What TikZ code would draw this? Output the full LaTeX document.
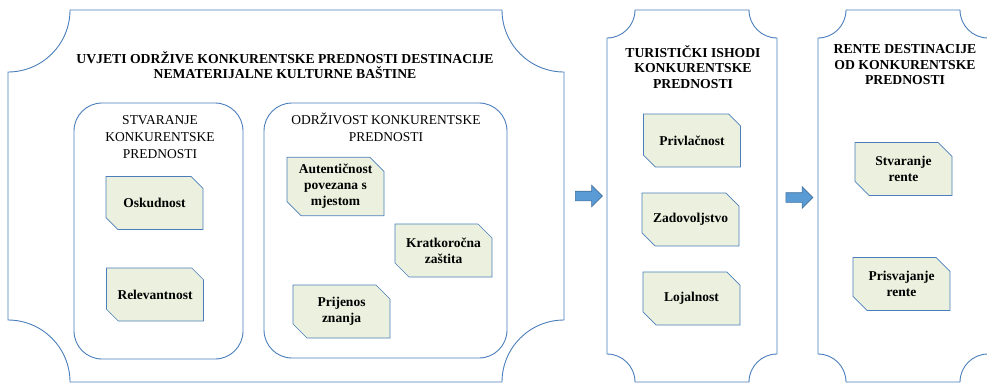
\documentclass[tikz,border=0pt]{standalone}
\usepackage{fontspec}
\setmainfont{Liberation Serif}
\usetikzlibrary{shapes.misc,shapes.arrows}
\definecolor{frameblue}{RGB}{74,126,187}
\definecolor{boxgreen}{RGB}{235,241,222}
\definecolor{arrowblue}{RGB}{91,155,213}
\definecolor{arrowedge}{RGB}{65,113,156}
\tikzset{
  plaque/.style={draw=frameblue, line width=0.9pt},
  panel/.style={draw=frameblue, line width=0.9pt, rounded corners=28pt},
  factor/.style={chamfered rectangle, chamfered rectangle corners={north east,south west},
    chamfered rectangle sep=7pt, draw=frameblue, fill=boxgreen, line width=0.7pt,
    inner sep=0pt, minimum width=97pt, minimum height=53pt, align=center,
    font=\fontsize{13.5}{16}\selectfont\bfseries},
  heading/.style={align=center, font=\fontsize{13.7}{15.5}\selectfont\bfseries},
  subheading/.style={align=center, font=\fontsize{13.5}{17}\selectfont},
  flow/.style={single arrow, draw=arrowedge, fill=arrowblue, line width=0.6pt,
    inner sep=4.5pt, single arrow head extend=6pt, minimum height=27pt}
}
% plaque with concave corners: x1, y1, x2, y2, radius
\newcommand{\plaquepath}[5]{%
  (#1+#5,#2) -- (#3-#5,#2) arc[start angle=180, end angle=90, radius=#5]
  -- (#3,#4-#5) arc[start angle=270, end angle=180, radius=#5]
  -- (#1+#5,#4) arc[start angle=0, end angle=-90, radius=#5]
  -- (#1,#2+#5) arc[start angle=90, end angle=0, radius=#5] -- cycle}
\begin{document}
\begin{tikzpicture}[x=1pt, y=-1pt]
  \useasboundingbox (0,0) rectangle (987,383);
  % containers
  \draw[plaque] \plaquepath{8}{10}{564}{382}{62};
  \draw[plaque] \plaquepath{607}{10}{777}{382}{28};
  \draw[plaque] \plaquepath{818}{10}{988}{382}{28};
  \draw[panel] (74,103) rectangle (243,359);
  \draw[panel] (264,103) rectangle (507,358);
  % headings
  \node[heading] (conditions) at (285,65) {UVJETI ODRŽIVE KONKURENTSKE PREDNOSTI DESTINACIJE\\NEMATERIJALNE KULTURNE BAŠTINE};
  \node[subheading] (creation) at (160,137) {STVARANJE\\KONKURENTSKE\\PREDNOSTI};
  \node[subheading] (sustain) at (386,127) {ODRŽIVOST KONKURENTSKE\\PREDNOSTI};
  \node[heading] (outcomes) at (693,67) {TURISTIČKI ISHODI\\KONKURENTSKE\\PREDNOSTI};
  \node[heading] (rents) at (905,65) {RENTE DESTINACIJE\\OD KONKURENTSKE\\PREDNOSTI};
  % factors
  \node[factor] (scarcity) at (154.5,203) {Oskudnost};
  \node[factor] (relevance) at (155,294.5) {Relevantnost};
  \node[factor] (authentic) at (335.5,186.5) {Autentičnost\\povezana s\\mjestom};
  \node[factor] (protection) at (443.5,250.5) {Kratkoročna\\zaštita};
  \node[factor] (transfer) at (341.5,311.5) {Prijenos\\znanja};
  \node[factor] (attract) at (692,140.5) {Privlačnost};
  \node[factor] (satisfy) at (690.5,219.5) {Zadovoljstvo};
  \node[factor] (loyalty) at (691.5,298.5) {Lojalnost};
  \node[factor] (rentmake) at (903.5,169) {Stvaranje\\rente};
  \node[factor] (renttake) at (901.5,284) {Prisvajanje\\rente};
  % flow arrows
  \node[flow] (flowa) at (586.5,196) {};
  \node[flow] (flowb) at (797,197.5) {};
\end{tikzpicture}
\end{document}
